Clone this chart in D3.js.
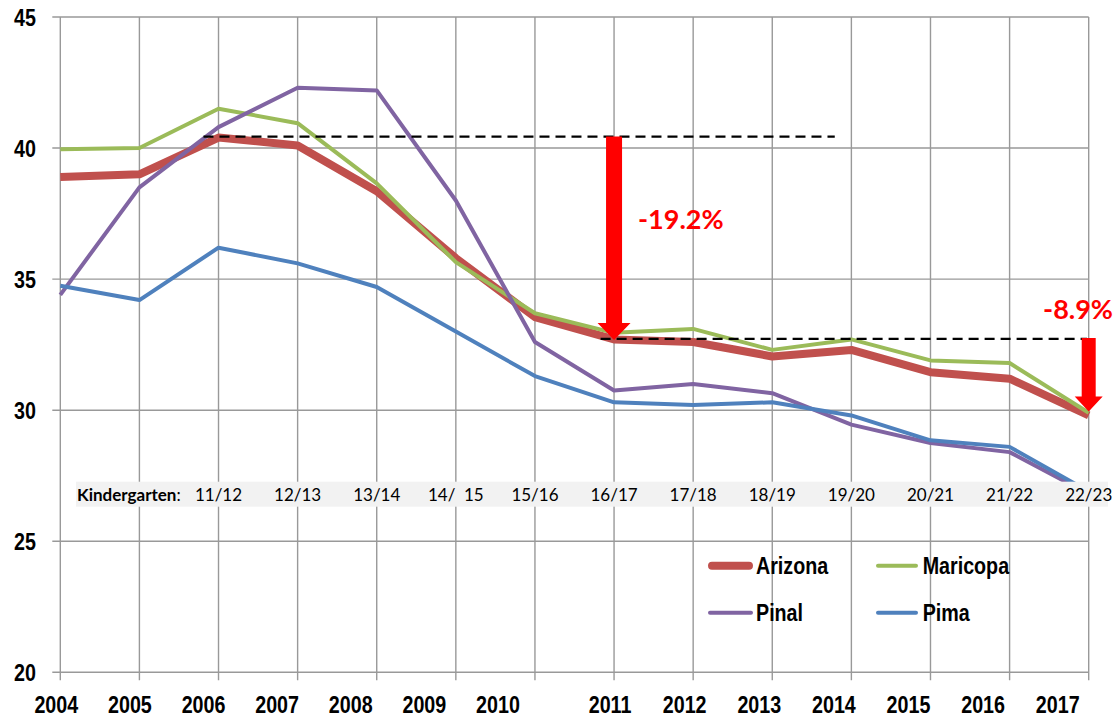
<!DOCTYPE html>
<html><head><meta charset="utf-8">
<script src="https://cdn.jsdelivr.net/npm/d3@7"></script>
<style>body{margin:0;background:#fff} svg{display:block;background:#fff}</style>
</head><body>
<svg id="c" width="1115" height="718"></svg>
<script>
// ---------- data ----------
const years    = [2004,2005,2006,2007,2008,2009,2010,2011,2012,2013,2014,2015,2016,2017];
const arizona  = [38.9,39.0,40.4,40.1,38.35,35.8,33.55,32.7,32.6,32.05,32.3,31.45,31.2,29.8];
const maricopa = [39.95,40.0,41.5,40.95,38.65,35.65,33.7,32.95,33.1,32.3,32.7,31.9,31.8,29.9];
const pinal    = [34.4,38.5,40.8,42.3,42.2,38.0,32.6,30.75,31.0,30.65,29.45,28.75,28.4,26.8];
const pima     = [34.75,34.2,36.2,35.6,34.7,33.0,31.3,30.3,30.2,30.3,29.8,28.85,28.6,26.9];
const seriesNames = ["Arizona","Maricopa","Pinal","Pima"];
const yTicks = [20,25,30,35,40,45];
const kinderYears  = [2006,2007,2008,2009,2010,2011,2012,2013,2014,2015,2016,2017];
const kinderLabels = ["11/12","12/13","13/14","14/  15","15/16","16/17","17/18","18/19","19/20","20/21","21/22","22/23"];
const refLines = [ {value:40.44, from:2005.81, to:2013.79}, {value:32.72, from:2010.83, to:2016.98} ];
const drops    = [ {year:2011, from:40.44, to:32.68, label:"-19.2%"}, {year:2017, from:32.75, to:29.95, label:"-8.9%"} ];

// ---------- setup ----------
const svg = d3.select("#c");
const L = 60.3, R = 1088.7, T = 17, B = 672.3;
const x = d3.scaleLinear().domain([2004,2017]).range([L,R]);
const y = d3.scaleLinear().domain([20,45]).range([B,T]);
const grid = "#999999";
const colors = {Arizona:"#c0504d", Maricopa:"#9bbb59", Pinal:"#8064a2", Pima:"#4f81bd"};
const widths = {Arizona:8, Maricopa:4, Pinal:4, Pima:4};
const values = {Arizona:arizona, Maricopa:maricopa, Pinal:pinal, Pima:pima};
const narrow = "'Liberation Sans Narrow','Arial Narrow',sans-serif";

// gridlines
svg.append("g").selectAll("line").data(yTicks).join("line")
  .attr("x1", L-8).attr("x2", R).attr("y1", d=>y(d)).attr("y2", d=>y(d))
  .attr("stroke", grid).attr("stroke-width", 1.4);
svg.append("g").selectAll("line").data(years).join("line")
  .attr("x1", d=>x(d)).attr("x2", d=>x(d)).attr("y1", T).attr("y2", B+8)
  .attr("stroke", grid).attr("stroke-width", 1.4);

// y labels
svg.append("g").selectAll("text").data(yTicks).join("text")
  .attr("x", 36).attr("y", d=>y(d)).attr("dy","0.36em").attr("text-anchor","end")
  .style("font-family", narrow).style("font-weight","bold").style("font-size","24px")
  .text(d=>d);

// x labels (placed as in the original picture, slightly drifting left of the gridlines)
const xLab = d3.scaleLinear().domain([2004,2010,2011,2017])
  .range([x(2004)-4, x(2010)-37, x(2011)-4, x(2017)-31]);
svg.append("g").selectAll("text").data(years).join("text")
  .attr("x", d=>xLab(d)).attr("y", 713).attr("text-anchor","middle")
  .style("font-family", narrow).style("font-weight","bold").style("font-size","24px")
  .text(d=>d);

// lines
const line = d3.line().x((d,i)=>x(years[i])).y(d=>y(d));
seriesNames.forEach(n=>{
  svg.append("path").datum(values[n]).attr("d", line)
    .attr("fill","none").attr("stroke", colors[n]).attr("stroke-width", widths[n])
    .attr("stroke-linejoin","round");
});

// kindergarten band
const bandTop = 481.7, bandH = 25;
svg.append("rect").attr("x", 76).attr("y", bandTop).attr("width", 1108-76).attr("height", bandH)
  .attr("fill", "#f2f2f2");
const kfont = "Lato, 'Open Sans', sans-serif";
const kt = svg.append("text").attr("x", 77).attr("y", bandTop+19)
  .style("font-family", kfont).style("font-size","17px").attr("fill","#000");
kt.append("tspan").style("font-weight","bold").text("Kindergarten");
kt.append("tspan").text(":");
svg.append("g").selectAll("text").data(kinderLabels).join("text")
  .attr("x", (d,i)=>x(kinderYears[i])).attr("y", bandTop+19).attr("text-anchor","middle")
  .attr("xml:space","preserve").style("white-space","pre")
  .style("font-family", kfont).style("font-size","17px").attr("fill","#000")
  .text(d=>d);

// dashed reference lines
svg.append("g").selectAll("line").data(refLines).join("line")
  .attr("x1", d=>x(d.from)).attr("x2", d=>x(d.to)).attr("y1", d=>y(d.value)).attr("y2", d=>y(d.value))
  .attr("stroke","#000").attr("stroke-width",2.3).attr("stroke-dasharray","10,6");

// drop arrows
const shaftW = [16,14], headW = [33,28], headH = [17,15];
drops.forEach((d,i)=>{
  const cx = x(d.year), y0 = y(d.from), y1 = y(d.to);
  const sw = shaftW[i]/2, hw = headW[i]/2, hh = headH[i];
  const p = d3.path();
  p.moveTo(cx-sw, y0); p.lineTo(cx+sw, y0); p.lineTo(cx+sw, y1-hh); p.lineTo(cx+hw, y1-hh);
  p.lineTo(cx, y1); p.lineTo(cx-hw, y1-hh); p.lineTo(cx-sw, y1-hh); p.closePath();
  svg.append("path").attr("d", p.toString()).attr("fill","#ff0000");
});
svg.append("text").attr("x", 638).attr("y", 229).text(drops[0].label)
  .style("font-family", kfont).style("font-weight","bold").style("font-size","27px").attr("fill","#ff0000");
svg.append("text").attr("x", 1113).attr("y", 319).attr("text-anchor","end").text(drops[1].label)
  .style("font-family", kfont).style("font-weight","bold").style("font-size","27px").attr("fill","#ff0000");

// legend
const legPos = {Arizona:[708,565.7], Maricopa:[876,565.7], Pinal:[708,612.7], Pima:[876,612.7]};
const legLen = {Arizona:45, Maricopa:42, Pinal:45, Pima:42};
const lg = svg.append("g");
seriesNames.forEach(n=>{
  const [lx,ly] = legPos[n];
  lg.append("line").attr("x1", lx+ (n==="Arizona"?4:2)).attr("x2", lx+legLen[n]-(n==="Arizona"?4:2))
    .attr("y1", ly).attr("y2", ly).attr("stroke", colors[n]).attr("stroke-width", widths[n])
    .attr("stroke-linecap","round");
  lg.append("text").attr("x", lx+legLen[n]+(n==="Arizona"||n==="Pinal"?3:4.7)).attr("y", ly+8.6)
    .style("font-family", narrow).style("font-weight","bold").style("font-size","24px").text(n);
});

// fallback if narrow font missing: compress glyphs horizontally
const probe = svg.append("text").style("font-family", narrow).style("font-weight","bold").style("font-size","23px").text("2004");
const w = probe.node().getComputedTextLength(); probe.remove();
if (w > 48) {
  svg.selectAll("text").filter(function(){ return this.style.fontFamily.indexOf("Narrow")>=0; })
    .each(function(){
      const len = this.getComputedTextLength();
      d3.select(this).attr("textLength", len*0.82).attr("lengthAdjust","spacingAndGlyphs");
    });
}
</script>
</body></html>
